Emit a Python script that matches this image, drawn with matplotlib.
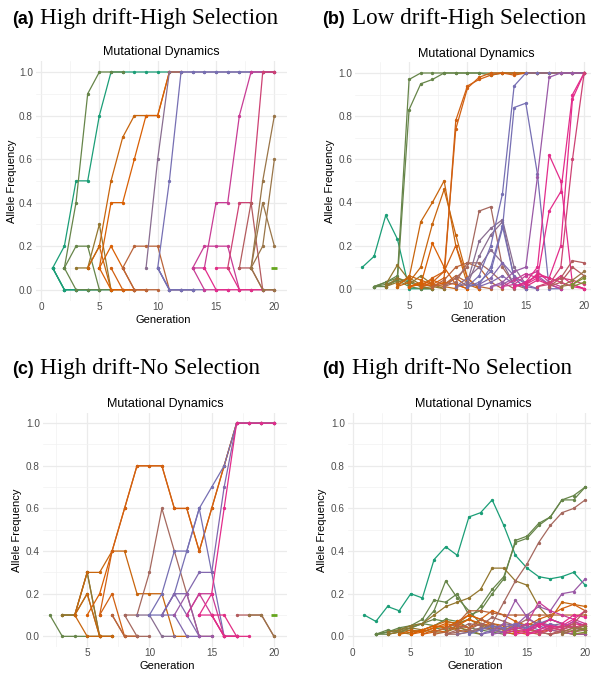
import matplotlib
matplotlib.use("Agg")
import matplotlib.pyplot as plt
from matplotlib.colors import LinearSegmentedColormap
import numpy as np

# ---------------- data: (start generation, allele frequencies) ----------------
a_start = [1, 1, 1, 1, 2, 2, 2, 3, 4, 4, 5, 5, 5, 6, 7, 7, 9, 10, 10, 10, 10,
           13, 13, 13, 14, 15, 16, 17, 17, 18, 18, 18, 18, 20]
a_freq = [
    [0.1, 0.2, 0.5, 0.5, 0.8, 1.0, 1.0, 1.0, 1.0, 1.0, 1.0],
    [0.1, 0.0, 0.0, 0.0, 0.0],
    [0.1, 0.0, 0.0, 0.0],
    [0.1, 0.0, 0.0, 0.0, 0.0, 0.0],
    [0.1, 0.4, 0.9, 1.0, 1.0, 1.0],
    [0.1, 0.2, 0.2, 0.0, 0.0],
    [0.1, 0.0, 0.0, 0.0],
    [0.1, 0.1, 0.3, 0.0, 0.0, 0.0],
    [0.1, 0.2, 0.5, 0.7, 0.8, 0.8, 0.8, 1.0, 1.0],
    [0.1, 0.2, 0.0, 0.0, 0.0],
    [0.1, 0.4, 0.4, 0.6, 0.8, 0.8, 1.0, 1.0],
    [0.1, 0.2, 0.1, 0.0, 0.0],
    [0.1, 0.0, 0.0, 0.0],
    [0.1, 0.0, 0.0, 0.0],
    [0.1, 0.2, 0.2, 0.2, 0.0, 0.0, 0.0],
    [0.1, 0.0, 0.0, 0.0],
    [0.1, 0.6, 1.0, 1.0, 1.0, 1.0, 1.0, 1.0, 1.0, 1.0, 1.0, 1.0],
    [0.1, 0.5, 1.0, 1.0, 1.0, 1.0, 1.0, 1.0, 1.0, 1.0, 1.0],
    [0.1, 0.0, 0.0, 0.0],
    [0.1, 0.0, 0.0, 0.0, 0.0],
    [0.1, 0.0, 0.0, 0.0],
    [0.1, 0.2, 0.2, 0.2, 0.0, 0.0, 0.0],
    [0.1, 0.1, 0.4, 0.4, 0.8, 1.0, 1.0, 1.0],
    [0.1, 0.0, 0.0, 0.0],
    [0.1, 0.0, 0.0, 0.0],
    [0.1, 0.1, 0.0, 0.0, 0.0],
    [0.1, 0.4, 0.4, 1.0, 1.0],
    [0.1, 0.4, 0.0, 0.0],
    [0.1, 0.1, 0.0, 0.0],
    [0.1, 0.4, 0.2],
    [0.1, 0.5, 0.8],
    [0.1, 0.2, 0.6],
    [0.1, 0.0, 0.0],
    [0.1],
]

b_start = [1, 2, 2, 2, 2, 3, 3, 3, 4, 4, 4, 5, 5, 5, 6, 6, 6, 7, 7, 8, 8, 9, 9, 9,
           10, 10, 10, 11, 11, 12, 12, 13, 13, 14, 14, 14, 15, 15, 16, 16, 17, 17,
           18, 18, 19, 19]
b_freq = [
    [0.10, 0.15, 0.34, 0.23, 0.0, 0.0, 0.0],
    [0.01, 0.02, 0.04, 0.01, 0.0, 0.0],
    [0.01, 0.03, 0.05, 0.03, 0.01, 0.0],
    [0.01, 0.03, 0.06, 0.97, 1.0, 1.0, 1.0, 1.0, 1.0, 1.0, 1.0, 1.0, 1.0, 1.0, 1.0, 1.0, 1.0, 1.0, 1.0],
    [0.01, 0.01, 0.04, 0.83, 0.95, 0.97, 1.0, 1.0, 1.0, 1.0, 0.99, 1.0, 1.0, 1.0, 1.0, 1.0, 1.0, 1.0, 1.0],
    [0.02, 0.11, 0.04, 0.01, 0.0],
    [0.01, 0.05, 0.02, 0.06, 0.02, 0.0],
    [0.01, 0.03, 0.05, 0.02, 0.01, 0.0],
    [0.02, 0.05, 0.31, 0.40, 0.50, 0.20, 0.02, 0.0],
    [0.01, 0.03, 0.10, 0.30, 0.46, 0.25, 0.05, 0.0],
    [0.01, 0.06, 0.04, 0.02, 0.01, 0.0],
    [0.01, 0.02, 0.21, 0.10, 0.02, 0.0],
    [0.01, 0.02, 0.04, 0.02, 0.05, 0.01],
    [0.01, 0.03, 0.01, 0.03, 0.02, 0.0],
    [0.01, 0.02, 0.05, 0.78, 0.94, 0.97, 0.99, 1.0, 1.0, 1.0, 1.0, 1.0, 1.0, 1.0, 1.0],
    [0.01, 0.03, 0.08, 0.74, 0.93, 0.98, 1.0, 1.0, 0.99, 1.0, 1.0, 1.0, 1.0, 1.0, 1.0],
    [0.01, 0.05, 0.08, 0.20, 0.05, 0.0],
    [0.01, 0.04, 0.10, 0.12, 0.10, 0.03, 0.0],
    [0.01, 0.02, 0.06, 0.03, 0.01, 0.0],
    [0.01, 0.05, 0.10, 0.36, 0.38, 0.10, 0.02, 0.0],
    [0.01, 0.03, 0.12, 0.12, 0.08, 0.03, 0.0],
    [0.01, 0.03, 0.22, 0.28, 0.32, 0.10, 0.02],
    [0.01, 0.02, 0.15, 0.25, 0.31, 0.05, 0.0],
    [0.01, 0.05, 0.10, 0.18, 0.12, 0.02],
    [0.01, 0.06, 0.20, 0.44, 0.94, 1.0, 1.0, 1.0, 1.0, 1.0, 1.0],
    [0.01, 0.03, 0.08, 0.28, 0.84, 0.86, 0.53, 0.0, 0.0],
    [0.01, 0.02, 0.10, 0.29, 0.05, 0.0],
    [0.01, 0.03, 0.06, 0.02, 0.01, 0.0],
    [0.02, 0.05, 0.12, 0.06, 0.02, 0.0],
    [0.01, 0.03, 0.08, 0.10, 0.52, 0.98, 1.0, 1.0, 1.0],
    [0.01, 0.02, 0.05, 0.03, 0.06, 0.02, 0.0],
    [0.01, 0.04, 0.07, 0.05, 0.02, 0.0],
    [0.01, 0.02, 0.06, 0.08, 0.03, 0.01],
    [0.01, 0.03, 0.10, 0.62, 0.50, 0.02, 0.0],
    [0.01, 0.02, 0.05, 0.36, 0.45, 0.90, 1.0],
    [0.01, 0.03, 0.06, 0.05, 0.20, 0.88, 1.0],
    [0.01, 0.04, 0.02, 0.06, 0.02, 0.0],
    [0.02, 0.07, 0.05, 0.03, 0.01, 0.0],
    [0.01, 0.03, 0.05, 0.04, 0.02],
    [0.01, 0.02, 0.10, 0.60, 1.0],
    [0.01, 0.05, 0.13, 0.12],
    [0.01, 0.03, 0.10, 0.06],
    [0.01, 0.04, 0.08],
    [0.01, 0.02, 0.06],
    [0.01, 0.03],
    [0.02, 0.05],
]

c_start = [2, 3, 3, 3, 4, 4, 4, 5, 6, 6, 7, 7, 8, 8, 9, 10, 10, 11, 11, 11, 12,
           13, 13, 14, 14, 15, 15, 17, 18, 20]
c_freq = [
    [0.1, 0.0, 0.0, 0.0, 0.0],
    [0.1, 0.1, 0.3, 0.0, 0.0],
    [0.1, 0.1, 0.2, 0.0, 0.0],
    [0.1, 0.1, 0.3, 0.0],
    [0.1, 0.3, 0.3, 0.4, 0.4, 0.2, 0.2, 0.2, 0.0, 0.0],
    [0.1, 0.2, 0.0, 0.0],
    [0.1, 0.0, 0.0],
    [0.1, 0.2, 0.4, 0.6, 0.8, 0.8, 0.8, 0.6, 0.6, 0.4, 0.6, 0.8, 1.0, 1.0, 1.0, 1.0],
    [0.1, 0.4, 0.6, 0.8, 0.8, 0.8, 0.6, 0.6, 0.4, 0.6, 0.8, 1.0, 1.0, 1.0, 1.0],
    [0.1, 0.2, 0.0, 0.0],
    [0.1, 0.0, 0.0],
    [0.1, 0.0, 0.0],
    [0.1, 0.1, 0.3, 0.6, 0.4, 0.2, 0.0, 0.0],
    [0.1, 0.0, 0.0],
    [0.1, 0.1, 0.0, 0.0],
    [0.1, 0.2, 0.4, 0.4, 0.6, 0.3, 0.0, 0.0],
    [0.1, 0.1, 0.2, 0.4, 0.6, 0.7, 0.8, 1.0, 1.0, 1.0, 1.0],
    [0.1, 0.2, 0.2, 0.3, 0.3, 0.7, 1.0, 1.0, 1.0, 1.0],
    [0.1, 0.1, 0.0, 0.0],
    [0.1, 0.2, 0.1, 0.0],
    [0.1, 0.2, 0.0, 0.0],
    [0.1, 0.2, 0.1, 0.0, 0.0],
    [0.1, 0.2, 0.2, 0.0, 0.0],
    [0.1, 0.2, 0.6, 1.0, 1.0, 1.0, 1.0],
    [0.1, 0.1, 0.0, 0.0],
    [0.1, 0.0, 0.0],
    [0.1, 0.1, 0.0, 0.0],
    [0.1, 0.1, 0.1, 0.0],
    [0.1, 0.1, 0.0],
    [0.1],
]

d_start = [1, 2, 2, 2, 2, 2, 3, 3, 3, 4, 4, 5, 5, 6, 6, 7, 7, 8, 8, 8, 9, 10,
           11, 11, 12, 12, 13, 13, 14, 14, 15, 15, 16, 16, 17, 17, 18, 18, 19, 19]
d_freq = [
    [0.10, 0.07, 0.14, 0.12, 0.20, 0.18, 0.36, 0.42, 0.38, 0.56, 0.58, 0.64, 0.52, 0.38, 0.32, 0.28, 0.27, 0.28, 0.30, 0.24],
    [0.01, 0.02, 0.03, 0.04, 0.06, 0.08, 0.07, 0.06, 0.08, 0.14, 0.22, 0.28, 0.44, 0.46, 0.52, 0.56, 0.64, 0.64, 0.70],
    [0.01, 0.02, 0.04, 0.05, 0.08, 0.17, 0.16, 0.20, 0.10, 0.12, 0.20, 0.27, 0.45, 0.47, 0.53, 0.56, 0.64, 0.66, 0.70],
    [0.01, 0.02, 0.03, 0.05, 0.06, 0.12, 0.26, 0.18, 0.12, 0.06, 0.03, 0.02, 0.01],
    [0.01, 0.03, 0.02, 0.04, 0.06, 0.05, 0.08, 0.07, 0.04, 0.03, 0.02, 0.01],
    [0.01, 0.01, 0.02, 0.03, 0.02, 0.04, 0.03, 0.05, 0.02, 0.01],
    [0.02, 0.03, 0.05, 0.06, 0.10, 0.14, 0.16, 0.18, 0.22, 0.32, 0.32, 0.26, 0.24, 0.14, 0.08, 0.06, 0.04, 0.03],
    [0.01, 0.02, 0.04, 0.03, 0.05, 0.04, 0.06, 0.08, 0.05, 0.03, 0.02, 0.04, 0.03, 0.02, 0.01, 0.02, 0.01, 0.01],
    [0.01, 0.02, 0.01, 0.03, 0.02, 0.02, 0.04, 0.03, 0.01],
    [0.01, 0.02, 0.03, 0.05, 0.07, 0.06, 0.10, 0.08, 0.06, 0.05, 0.04, 0.06, 0.05, 0.08, 0.16, 0.15, 0.14],
    [0.01, 0.03, 0.02, 0.04, 0.05, 0.03, 0.02, 0.04, 0.03, 0.02, 0.01],
    [0.01, 0.02, 0.04, 0.06, 0.05, 0.08, 0.06, 0.04, 0.03, 0.05, 0.04, 0.02, 0.03, 0.02, 0.01, 0.01],
    [0.01, 0.03, 0.05, 0.04, 0.07, 0.10, 0.08, 0.05, 0.03, 0.02],
    [0.01, 0.02, 0.04, 0.06, 0.04, 0.08, 0.12, 0.10, 0.07, 0.05, 0.08, 0.10, 0.13, 0.15, 0.12],
    [0.01, 0.03, 0.02, 0.05, 0.04, 0.06, 0.05, 0.03, 0.02, 0.01],
    [0.02, 0.04, 0.06, 0.12, 0.12, 0.11, 0.10, 0.10, 0.10, 0.10, 0.10, 0.10, 0.10, 0.10],
    [0.01, 0.02, 0.05, 0.04, 0.08, 0.06, 0.04, 0.03, 0.02, 0.01],
    [0.01, 0.01, 0.02, 0.03, 0.06, 0.16, 0.26, 0.34, 0.44, 0.52, 0.58, 0.60, 0.64],
    [0.01, 0.03, 0.06, 0.05, 0.09, 0.07, 0.05, 0.08, 0.06, 0.04, 0.03, 0.02, 0.03],
    [0.01, 0.02, 0.03, 0.06, 0.04, 0.03, 0.05, 0.04, 0.02, 0.01],
    [0.01, 0.02, 0.04, 0.03, 0.06, 0.05, 0.04, 0.07, 0.05, 0.06, 0.04, 0.03],
    [0.01, 0.03, 0.05, 0.04, 0.06, 0.03, 0.05, 0.08, 0.06, 0.04, 0.03],
    [0.01, 0.02, 0.04, 0.06, 0.05, 0.03, 0.06, 0.04, 0.07, 0.05],
    [0.01, 0.03, 0.02, 0.05, 0.04, 0.06, 0.08, 0.06, 0.04, 0.03],
    [0.02, 0.06, 0.17, 0.09, 0.05, 0.03, 0.02, 0.01, 0.01],
    [0.01, 0.02, 0.05, 0.10, 0.14, 0.12, 0.20, 0.21, 0.27],
    [0.01, 0.03, 0.06, 0.16, 0.12, 0.10, 0.08, 0.06],
    [0.02, 0.04, 0.03, 0.06, 0.05, 0.04, 0.07, 0.05],
    [0.01, 0.02, 0.05, 0.08, 0.06, 0.10, 0.09],
    [0.02, 0.03, 0.06, 0.04, 0.05, 0.08, 0.12],
    [0.01, 0.03, 0.05, 0.04, 0.06, 0.05],
    [0.01, 0.02, 0.04, 0.03, 0.02, 0.04],
    [0.01, 0.03, 0.05, 0.04, 0.06],
    [0.02, 0.04, 0.03, 0.05, 0.03],
    [0.01, 0.03, 0.06, 0.12],
    [0.01, 0.02, 0.04, 0.05],
    [0.01, 0.03, 0.05],
    [0.02, 0.04, 0.03],
    [0.01, 0.02],
    [0.02, 0.04],
]

panel_titles = ["High drift-High Selection", "Low drift-High Selection",
                "High drift-No Selection", "High drift-No Selection"]
panel_tags = ["(a)", "(b)", "(c)", "(d)"]
y_ticks = [0.0, 0.2, 0.4, 0.6, 0.8, 1.0]
x_ticks = [0, 5, 10, 15, 20]

# ---------------- styling ----------------
W, H = 591, 673
fig = plt.figure(figsize=(W / 100, H / 100), dpi=100)
SANS = "Liberation Sans"
SERIF = "Liberation Serif"
cmap = LinearSegmentedColormap.from_list(
    "dark2ramp", ["#1B9E77", "#D95F02", "#7570B3", "#E7298A", "#66A61E"])
# colour position along the ramp as a function of the generation a mutation appears
hue_gen = [1, 2, 3, 4, 5, 6, 7, 8, 9, 10, 11, 12, 13, 14, 15, 16, 17, 18, 19, 20]
hue_pos = [0.0, 0.10, 0.16, 0.23, 0.25, 0.27, 0.33, 0.38, 0.45, 0.50, 0.53, 0.58,
           0.68, 0.74, 0.76, 0.80, 0.85, 0.90, 0.95, 1.0]


def fx(x):
    return x / W


def fy(y):
    return 1 - y / H


panels = [
    dict(l=36, t=61.1, r=287, b=300.6, xlim=(-0.43, 21.08), tag=(12, 24), name=40.5, yl=12.5),
    dict(l=355.4, t=62.2, r=597, b=299.5, xlim=(0.4, 21.1), tag=(322, 24), name=352, yl=330),
    dict(l=43, t=412.5, r=287, b=647.0, xlim=(1.45, 21.05), tag=(12, 374), name=40.5, yl=17),
    dict(l=348, t=412.5, r=598, b=647.0, xlim=(-0.4, 21.1), tag=(322, 374), name=352, yl=322),
]
data = [(a_start, a_freq), (b_start, b_freq), (c_start, c_freq), (d_start, d_freq)]

for k, (p, (starts, freqs)) in enumerate(zip(panels, data)):
    ax = fig.add_axes([fx(p["l"]), fy(p["b"]), fx(p["r"] - p["l"]), (p["b"] - p["t"]) / H])
    ax.set_facecolor("white")
    for s in ax.spines.values():
        s.set_visible(False)
    ax.set_xlim(*p["xlim"])
    ax.set_ylim(-0.05, 1.05)
    ax.set_xticks([t for t in x_ticks if p["xlim"][0] <= t <= p["xlim"][1]])
    ax.set_xticks([2.5, 7.5, 12.5, 17.5], minor=True)
    ax.set_yticks(y_ticks)
    ax.set_yticks([0.1, 0.3, 0.5, 0.7, 0.9], minor=True)
    ax.set_yticklabels([f"{v:.1f}" for v in y_ticks])
    ax.grid(True, which="major", color="#EBEBEB", lw=0.9)
    ax.grid(True, which="minor", color="#F2F2F2", lw=0.5)
    ax.set_axisbelow(True)
    ax.tick_params(which="both", length=0, labelsize=7.2, labelcolor="#4D4D4D")
    ax.tick_params(axis="x", pad=0.8)
    ax.tick_params(axis="y", pad=2.2)
    for lab in ax.get_xticklabels() + ax.get_yticklabels():
        lab.set_fontfamily(SANS)

    for s, f in zip(starts, freqs):
        g = np.arange(s, s + len(f))
        c = cmap(float(np.interp(s, hue_gen, hue_pos)))
        if len(f) == 1:
            ax.plot(g, f, color=c, marker="_", ms=5, mew=2, ls="none", zorder=3)
        else:
            ax.plot(g, f, color=c, lw=0.9, marker="o", ms=1.4,
                    solid_joinstyle="round", zorder=3)

    mid = (p["l"] + p["r"]) / 2
    fig.text(fx(mid), fy(p["t"] - 8.6), "Mutational Dynamics",
             ha="center", va="center", fontsize=9, family=SANS, color="black")
    fig.text(fx(mid + 2), fy(p["b"] + 19), "Generation",
             ha="center", va="center", fontsize=8, family=SANS, color="black")
    fig.text(fx(p["yl"]), fy((p["t"] + p["b"]) / 2),
             "Allele Frequency", rotation=90, ha="center", va="center",
             fontsize=8, family=SANS, color="black")
    tx, ty = p["tag"]
    fig.text(fx(tx), fy(ty), panel_tags[k], ha="left", va="baseline",
             fontsize=13, fontweight="bold", family=SANS)
    fig.text(fx(p["name"]), fy(ty), panel_titles[k], ha="left", va="baseline",
             fontsize=16.7, family=SERIF)

fig.savefig("out.png", dpi=100, facecolor="white")
